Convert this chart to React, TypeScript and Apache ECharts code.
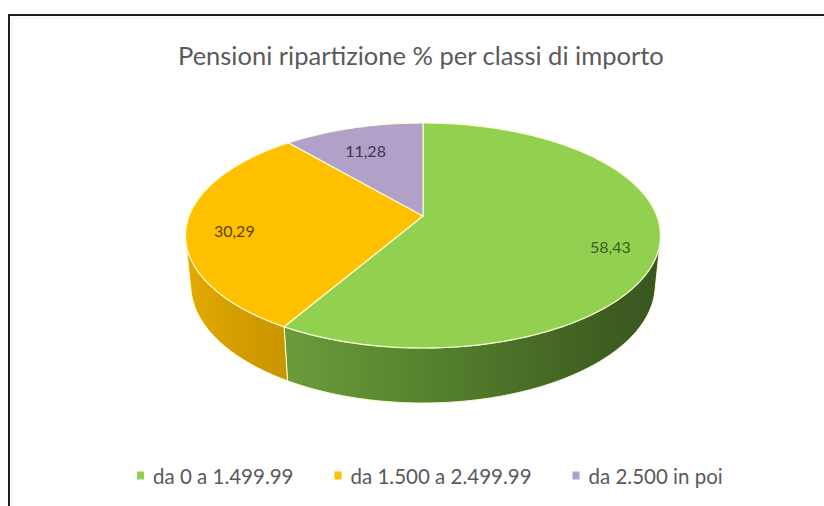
import { useEffect, useRef } from 'react';
import * as echarts from 'echarts';

const TITLE = 'Pensioni ripartizione % per classi di importo';
const CATEGORIES = ['da 0 a 1.499.99', 'da 1.500 a 2.499.99', 'da 2.500 in poi'];
const VALUES = [58.43, 30.29, 11.28];

const TOP_COLORS = ['#92D050', '#FFC000', '#B1A0C7'];
const LABEL_COLORS = ['#3D5E1F', '#5E4300', '#3F3352'];
const WALL_STOPS = [
  [
    { offset: 0, color: '#6B9C3B' },
    { offset: 0.45, color: '#527D2C' },
    { offset: 0.85, color: '#3F5E22' },
    { offset: 1, color: '#3A5620' },
  ],
  [
    { offset: 0, color: '#E2AA00' },
    { offset: 0.5, color: '#D49E00' },
    { offset: 1, color: '#C99500' },
  ],
  [
    { offset: 0, color: '#9484AA' },
    { offset: 1, color: '#7A6C90' },
  ],
];

// projection of a unit-radius disc seen in perspective
const CX = 423;
const CY = 216;
const FOCAL = 1193.8;
const DIST = 5.104;
const SIN = 0.4666;
const COS = 0.8845;
const THICK = 0.2395;
const LABEL_R = 0.8;
const LABEL_DY = 7;

function proj(theta: number, r: number, h: number): number[] {
  const X = r * Math.sin(theta);
  const Z = -r * Math.cos(theta);
  const depth = DIST - h * SIN - Z * COS;
  return [CX + (FOCAL * X) / depth, CY - (FOCAL * (h * COS - Z * SIN)) / depth];
}

const fmt = (v: number) => v.toFixed(2).replace('.', ',');

export default function App() {
  const ref = useRef<HTMLDivElement>(null);
  useEffect(() => {
    if (!ref.current) return;
    const chart = echarts.init(ref.current, undefined, { renderer: 'svg' });
    const total = VALUES.reduce((a, b) => a + b, 0);
    const starts: number[] = [];
    let acc = 0;
    VALUES.forEach((v) => {
      starts.push((acc / total) * Math.PI * 2);
      acc += v;
    });
    const visLimit = Math.acos(-1 / (DIST * COS));
    const vis0 = visLimit;
    const vis1 = Math.PI * 2 - visLimit;
    const STEP = Math.PI / 180;

    const series = CATEGORIES.map((name, i) => ({
      type: 'custom',
      name,
      coordinateSystem: 'none',
      itemStyle: { color: TOP_COLORS[i] },
      data: [[VALUES[i]]],
      renderItem: (params: any, api: any) => {
        const v = api.value(0);
        const a0 = starts[i];
        const a1 = a0 + (v / total) * Math.PI * 2;
        const children: any[] = [];
        // outer wall
        const w0 = Math.max(a0, vis0);
        const w1 = Math.min(a1, vis1);
        if (w1 > w0) {
          const n = Math.max(2, Math.ceil((w1 - w0) / STEP));
          const pts: number[][] = [];
          for (let k = 0; k <= n; k++) pts.push(proj(w0 + ((w1 - w0) * k) / n, 1, 0));
          for (let k = n; k >= 0; k--) pts.push(proj(w0 + ((w1 - w0) * k) / n, 1, -THICK));
          const xs = pts.map((p) => p[0]);
          children.push({
            type: 'polygon',
            shape: { points: pts },
            style: {
              fill: new echarts.graphic.LinearGradient(
                Math.min(...xs), 0, Math.max(...xs), 0, WALL_STOPS[i], true
              ),
              stroke: 'rgba(255,255,215,0.9)',
              lineWidth: 1,
            },
          });
        }
        // top face
        const n2 = Math.max(2, Math.ceil((a1 - a0) / STEP));
        const top: number[][] = [proj(0, 0, 0)];
        for (let k = 0; k <= n2; k++) top.push(proj(a0 + ((a1 - a0) * k) / n2, 1, 0));
        children.push({
          type: 'polygon',
          shape: { points: top },
          style: {
            fill: TOP_COLORS[i],
            stroke: 'rgba(255,255,215,0.95)',
            lineWidth: 1.2,
          },
        });
        // label
        const mid = (a0 + a1) / 2;
        const lp = proj(mid, LABEL_R, 0);
        children.push({
          type: 'text',
          x: lp[0],
          y: lp[1] + LABEL_DY,
          style: {
            text: fmt(v),
            fill: LABEL_COLORS[i],
            font: '16px Lato',
            align: 'center',
            verticalAlign: 'middle',
          },
        });
        return { type: 'group', children };
      },
    }));

    chart.setOption({
      animation: false,
      backgroundColor: '#ffffff',
      title: {
        text: TITLE,
        left: 173,
        top: 37,
        textStyle: {
          fontFamily: 'Lato',
          fontSize: 25.5,
          fontWeight: 'normal',
          color: '#5A5A5A',
        },
      },
      legend: {
        data: CATEGORIES,
        left: 132,
        top: 460,
        icon: 'rect',
        itemWidth: 7,
        itemHeight: 8,
        itemGap: 41,
        textStyle: {
          fontFamily: 'Lato',
          fontSize: 20.5,
          color: '#595959',
          padding: [0, 0, 0, 4],
        },
      },
      graphic: [
        {
          type: 'rect',
          z: 10,
          shape: { x: 9, y: 15, width: 900, height: 600 },
          style: { fill: 'none', stroke: '#1E1E1E', lineWidth: 2 },
          silent: true,
        },
        {
          type: 'rect',
          z: 10,
          shape: { x: 12, y: 18, width: 900, height: 600 },
          style: { fill: 'none', stroke: '#EEEEEE', lineWidth: 1 },
          silent: true,
        },
      ],
      series,
    });
    return () => chart.dispose();
  }, []);
  return (
    <div
      ref={ref}
      style={{ position: 'absolute', left: 0, top: 0, width: 824, height: 506 }}
    />
  );
}
